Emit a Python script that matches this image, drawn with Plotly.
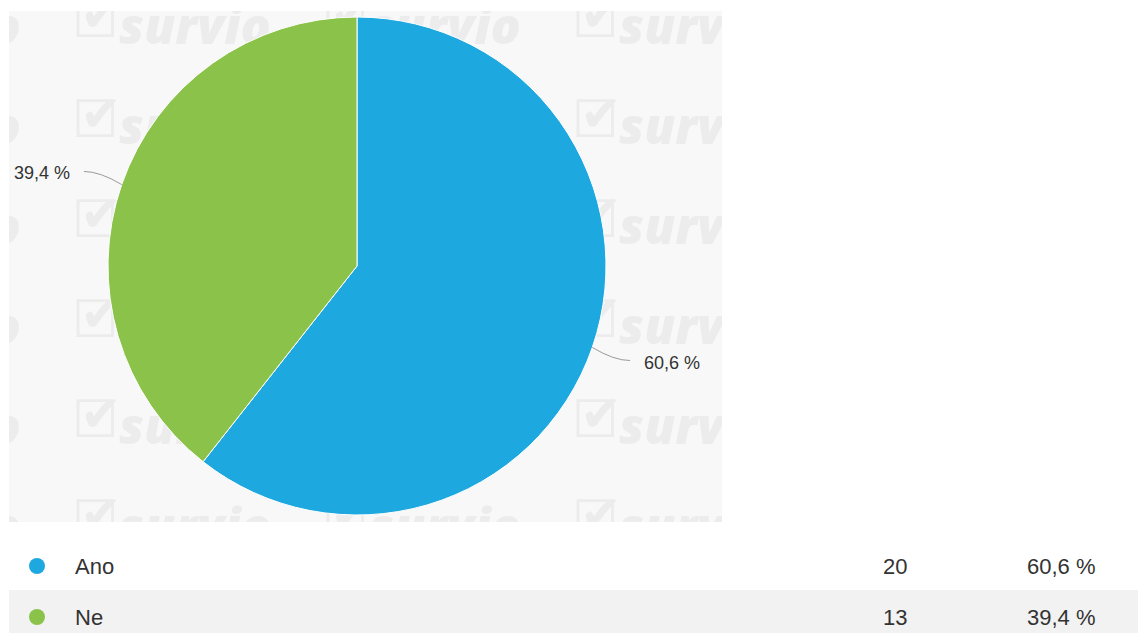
import math
import plotly.graph_objects as go

# Survey answers
categories = ["Ano", "Ne"]
counts = [20, 13]
percent_labels = ["60,6 %", "39,4 %"]
colors = ["#1ea8e0", "#8bc34a"]

W, H = 1138, 633
# chart panel (pixels)
PX0, PX1, PY0, PY1 = 9, 722, 11, 522
# pie square (pixels)
CX, CY, R = 357, 266, 249


def px(x):
    return x / W


def py(y):
    return 1 - y / H


fig = go.Figure()

# faint watermark tiles behind the pie: a check box and the brand word
box_x, box_y, tick_x, tick_y, word_x, word_y = [], [], [], [], [], []
for row in range(6):
    for col in range(4):
        box_x.append(-155 + 250 * col)
        box_y.append(24 + 100 * row)
        tick_x.append(-149 + 250 * col)
        tick_y.append(18 + 100 * row)
        word_x.append(-55 + 250 * col)
        word_y.append(31 + 100 * row)
WM = "#ececec"
fig.add_trace(go.Scatter(
    x=box_x, y=box_y, mode="text", text=["☐"] * len(box_x),
    textfont=dict(family="DejaVu Sans", size=52, color=WM),
    hoverinfo="skip", showlegend=False, cliponaxis=True,
))
fig.add_trace(go.Scatter(
    x=tick_x, y=tick_y, mode="text", text=["✔"] * len(tick_x),
    textfont=dict(family="DejaVu Sans", size=50, color=WM),
    hoverinfo="skip", showlegend=False, cliponaxis=True,
))
fig.add_trace(go.Scatter(
    x=word_x, y=word_y, mode="text", text=["survio"] * len(word_x),
    textfont=dict(family="Open Sans", size=50, color=WM,
                  weight=800, style="italic"),
    hoverinfo="skip", showlegend=False, cliponaxis=True,
))

total = sum(counts)
fig.add_trace(go.Pie(
    labels=categories, values=counts, sort=False, direction="clockwise",
    rotation=0, marker=dict(colors=colors, line=dict(color="white", width=1)),
    textinfo="none", showlegend=False,
    domain=dict(x=[px(CX - R), px(CX + R)], y=[py(CY + R), py(CY - R)]),
))

shapes = []
annotations = []

# outside labels with leader lines, placed at each slice's mid-angle
start = 0.0
for val, lab in zip(counts, percent_labels):
    frac = val / total
    mid = (start + frac / 2) * 2 * math.pi
    start += frac
    ux, uy = math.sin(mid), -math.cos(mid)
    x0, y0 = CX + R * ux, CY + R * uy
    x2, y2 = CX + (R + 40) * ux, CY + (R + 40) * uy
    side = 1 if ux >= 0 else -1
    x1, y1 = x2 - side * 16, y2
    shapes.append(dict(
        type="path", xref="paper", yref="paper",
        path=f"M {px(x0)} {py(y0)} Q {px(x1)} {py(y1)} {px(x2)} {py(y2)}",
        line=dict(color="#9a9a9a", width=1),
    ))
    annotations.append(dict(
        x=px(x2 + side * 12), y=py(y2 + 2), xref="paper", yref="paper",
        text=lab, showarrow=False,
        xanchor="left" if side > 0 else "right", yanchor="middle",
        font=dict(family="Liberation Sans, Arial", size=18, color="#333333"),
    ))

# summary table below the chart
row_y = [566, 617]
shapes.append(dict(type="rect", xref="paper", yref="paper", layer="below",
                   x0=px(9), x1=1, y0=py(633), y1=py(590),
                   fillcolor="#f2f2f2", line=dict(width=0)))
tfont = dict(family="Liberation Sans, Arial", size=22, color="#333333")
for i, (cat, n, lab) in enumerate(zip(categories, counts, percent_labels)):
    yc = row_y[i]
    shapes.append(dict(type="circle", xref="paper", yref="paper",
                       x0=px(29), x1=px(45), y0=py(yc + 8), y1=py(yc - 8),
                       fillcolor=colors[i], line=dict(width=0)))
    annotations.append(dict(x=px(73), y=py(yc), xref="paper", yref="paper",
                            text=cat, showarrow=False, xanchor="left",
                            yanchor="middle", font=tfont))
    annotations.append(dict(x=px(909), y=py(yc), xref="paper", yref="paper",
                            text=str(n), showarrow=False, xanchor="right",
                            yanchor="middle", font=tfont))
    annotations.append(dict(x=px(1098), y=py(yc), xref="paper", yref="paper",
                            text=lab, showarrow=False, xanchor="right",
                            yanchor="middle", font=tfont))

fig.update_layout(
    width=W, height=H, margin=dict(l=0, r=0, t=0, b=0),
    paper_bgcolor="white", plot_bgcolor="#f8f8f8",
    xaxis=dict(domain=[px(PX0), px(PX1)], range=[PX0, PX1], visible=False,
               fixedrange=True),
    yaxis=dict(domain=[py(PY1), py(PY0)], range=[PY1, PY0], visible=False,
               fixedrange=True),
    shapes=shapes, annotations=annotations,
)

fig.write_html("out.html")
